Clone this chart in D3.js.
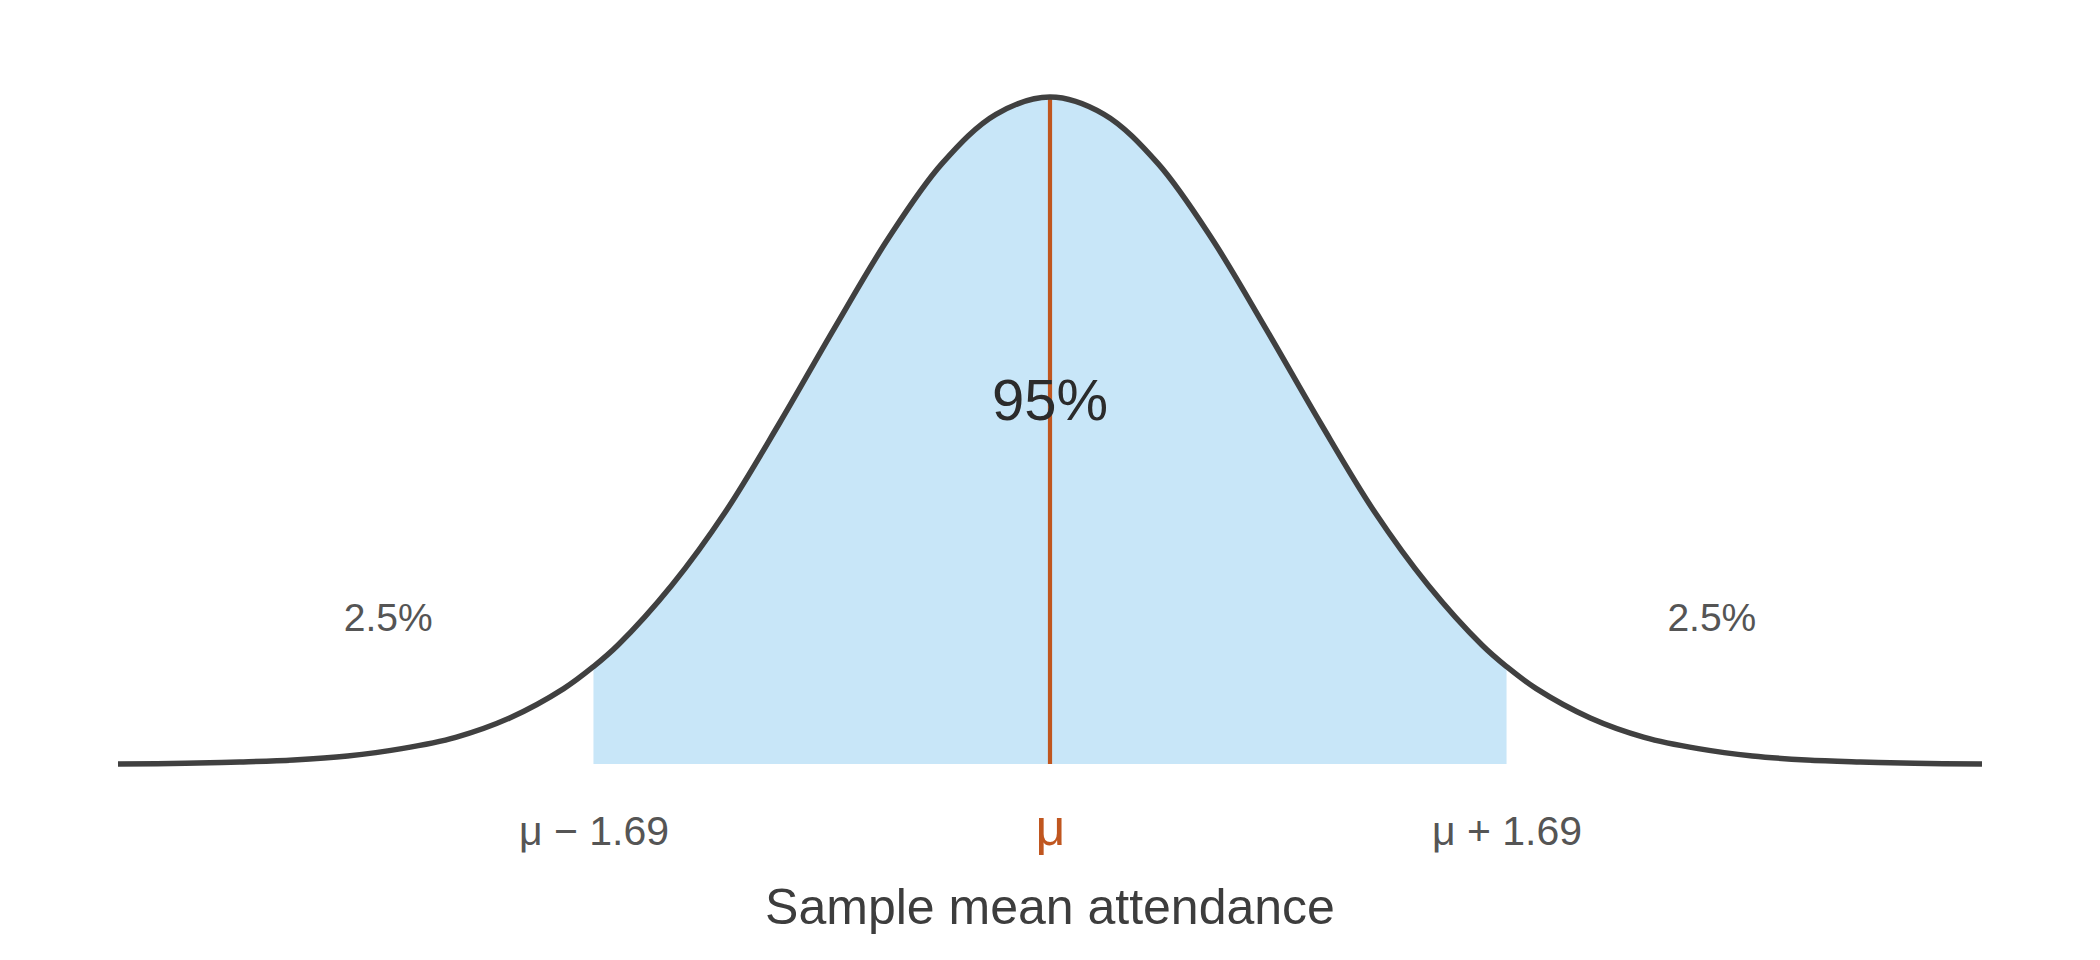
<!DOCTYPE html>
<html>
<head>
<meta charset="utf-8">
<script src="https://cdn.jsdelivr.net/npm/d3@7"></script>
<style>
  html, body { margin: 0; padding: 0; background: #ffffff; }
  svg { display: block; }
  text { font-family: "Liberation Sans", Arial, Helvetica, sans-serif; }
</style>
</head>
<body>
<svg id="chart" width="2100" height="960"></svg>
<script>
// Offset from the mean (attendance units) and relative density
const curveX = [-3.45, -3.2, -3.0, -2.8, -2.6, -2.4, -2.2, -2.0, -1.8, -1.69, -1.6, -1.4, -1.2, -1.0, -0.8, -0.6, -0.4, -0.2, 0,
                0.2, 0.4, 0.6, 0.8, 1.0, 1.2, 1.4, 1.6, 1.69, 1.8, 2.0, 2.2, 2.4, 2.6, 2.8, 3.0, 3.2, 3.45];
const curveY = [0.000, 0.001, 0.003, 0.006, 0.012, 0.023, 0.040, 0.069, 0.113, 0.146, 0.178, 0.268, 0.379, 0.512, 0.652, 0.787, 0.900, 0.974, 1.000,
                0.974, 0.900, 0.787, 0.652, 0.512, 0.379, 0.268, 0.178, 0.146, 0.113, 0.069, 0.040, 0.023, 0.012, 0.006, 0.003, 0.001, 0.000];
const intervalBounds = [-1.69, 1.69];
const tickValues = [-1.69, 0, 1.69];
const tickLabels = ["μ − 1.69", "μ", "μ + 1.69"];
const tailLabels = [{x: -2.45, text: "2.5%"}, {x: 2.45, text: "2.5%"}];
const centerLabel = "95%";
const axisTitle = "Sample mean attendance";

const svg = d3.select("#chart");
const x = d3.scaleLinear().domain([-3.45, 3.45]).range([118, 1982]);
const y = d3.scaleLinear().domain([0, 1]).range([764, 97]);

const pts = curveX.map((v, i) => ({x: v, y: curveY[i]}));
const inner = pts.filter(d => d.x >= intervalBounds[0] && d.x <= intervalBounds[1]);
const smooth = d3.curveCatmullRom.alpha(0.5);

// shaded 95% area
svg.append("path")
  .datum(inner)
  .attr("fill", "#c8e6f8")
  .attr("d", d3.area().x(d => x(d.x)).y0(y(0)).y1(d => y(d.y)).curve(smooth));

// mean line
svg.append("line")
  .attr("x1", x(0)).attr("x2", x(0))
  .attr("y1", y(0)).attr("y2", y(1))
  .attr("stroke", "#c0561f").attr("stroke-width", 4.2);

// density curve
svg.append("path")
  .datum(pts)
  .attr("fill", "none")
  .attr("stroke", "#404040")
  .attr("stroke-width", 5.5)
  .attr("d", d3.line().x(d => x(d.x)).y(d => y(d.y)).curve(smooth));

// center label
svg.append("text")
  .attr("x", x(0)).attr("y", 420)
  .attr("text-anchor", "middle")
  .attr("font-size", 58)
  .attr("fill", "#2b2b2b")
  .text(centerLabel);

// tail labels
svg.selectAll("text.tail").data(tailLabels).enter().append("text")
  .attr("class", "tail")
  .attr("x", d => x(d.x)).attr("y", 631)
  .attr("text-anchor", "middle")
  .attr("font-size", 39)
  .attr("fill", "#555555")
  .text(d => d.text);

// axis
const axis = d3.axisBottom(x)
  .tickValues(tickValues)
  .tickSize(0)
  .tickPadding(0)
  .tickFormat((d, i) => tickLabels[i]);
const g = svg.append("g").attr("transform", "translate(0,845)").call(axis);
g.select(".domain").remove();
g.selectAll(".tick text")
  .attr("dy", 0)
  .attr("y", 0)
  .attr("font-family", "Liberation Sans, Arial, sans-serif")
  .attr("font-size", 41)
  .attr("fill", "#555555");
g.selectAll(".tick text").filter((d, i) => i === 1)
  .attr("font-size", 52)
  .attr("fill", "#c0561f");

// axis title
svg.append("text")
  .attr("x", 1050).attr("y", 924)
  .attr("text-anchor", "middle")
  .attr("font-size", 50)
  .attr("fill", "#3d3d3d")
  .text(axisTitle);
</script>
</body>
</html>
